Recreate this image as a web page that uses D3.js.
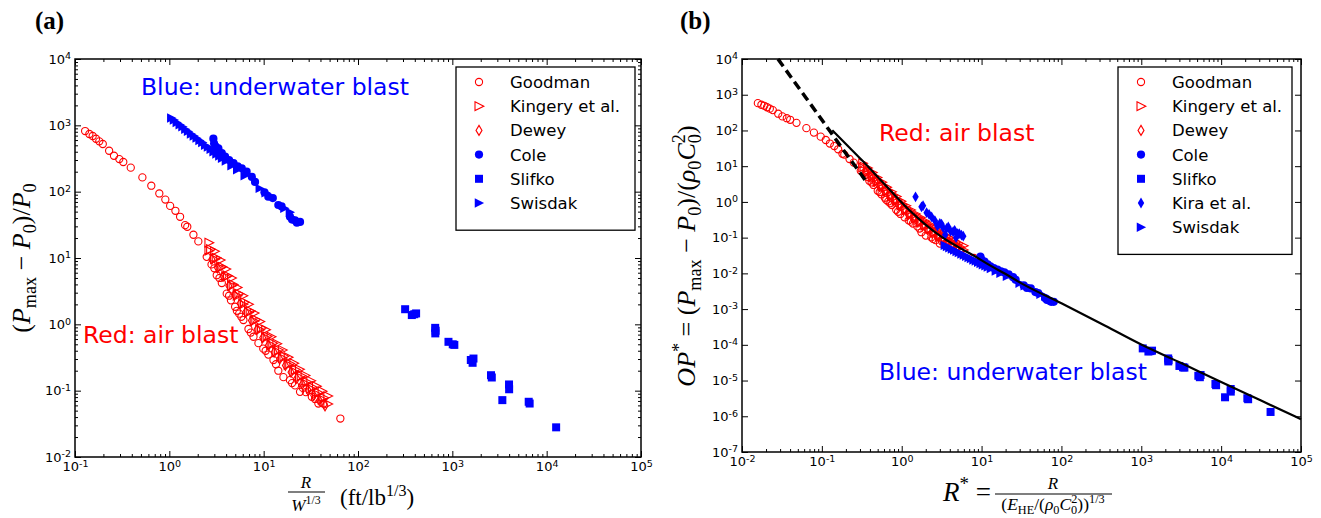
<!DOCTYPE html>
<html>
<head>
<meta charset="utf-8">
<script src="https://cdnjs.cloudflare.com/ajax/libs/d3/7.8.5/d3.min.js"></script>
<style>
body { margin: 0; background: #fff; }
text { font-family: "DejaVu Sans", sans-serif; }
.math { font-family: "Liberation Serif", "DejaVu Serif", serif; }
</style>
</head>
<body>
<script>
var W = 1321, H = 518;
var red = "#ff0000", blue = "#0000ff";

// ---------- panel (a): x = R/W^(1/3) (ft/lb^1/3), y = (Pmax-P0)/P0 ----------
var goodmanA = [[0.128,820],[0.142,740],[0.154,690],[0.167,628],[0.181,574],[0.197,523],[0.230,414],[0.259,348],
  [0.295,310],[0.325,280],[0.390,230],[0.518,164],[0.644,123],[0.783,94],[0.907,76],[1.02,61],[1.16,51.5],
  [1.30,41.8],[1.47,31.3],[1.55,29.6],[1.80,22.4],[2.03,17.8],[2.49,10.4],[2.8,8.0],[3.0,7.0],[3.18,5.5],
  [3.4,5.0],[3.6,4.2],[4.06,2.9],[4.3,2.7],[4.5,2.3],[4.98,1.84],[5.2,1.6],[5.5,1.45],[5.8,1.3],[6.1,1.16],
  [6.9,0.85],[7.3,0.75],[7.8,0.65],[8.8,0.52],[9.9,0.43],[10.5,0.40],[11.2,0.35],[12.7,0.29],[13.5,0.25],
  [14.3,0.20],[16.2,0.16],[19,0.144],[20,0.13],[21.5,0.12],[24.3,0.096],[26,0.11],[28,0.095],[32.4,0.081],
  [35,0.075],[38,0.064],[43,0.064],[65,0.038]];
var kingeryA = [[2.63,17.0],[3.02,12.6],[3.47,9.3],[3.98,6.8],[4.57,5.0],[5.25,3.6],[6.03,2.7],[6.92,2.0],
  [7.94,1.48],[9.12,1.10],[10.5,0.83],[12.0,0.65],[13.8,0.51],[15.8,0.41],[18.2,0.32],[20.9,0.26],[24.0,0.21],
  [27.5,0.17],[31.6,0.141],[36.3,0.117],[41.7,0.098],[47.9,0.083],
  [2.74,13.6],[3.14,10.1],[3.61,7.4],[4.14,5.4],[4.75,4.0],[5.46,2.9],[6.27,2.16],[7.20,1.6],[8.26,1.18],
  [9.48,0.88],[10.9,0.66],[12.5,0.52],[14.4,0.41],[16.4,0.33],[18.9,0.256],[21.7,0.208],[25.0,0.168],
  [28.6,0.136],[32.9,0.113],[37.8,0.094],[43.4,0.078],
  [2.63,12.9],[3.02,9.6],[3.47,7.1],[3.98,5.2],[4.57,3.8],[5.25,2.7],[6.03,2.0],[6.92,1.51],[7.94,1.12],
  [9.12,0.83],[10.5,0.63],[12.0,0.49],[13.8,0.39],[15.8,0.31],[18.2,0.245],[20.9,0.195],[24.0,0.16],
  [27.5,0.129],[31.6,0.107],[36.3,0.089],[41.7,0.074],[47.9,0.063]];
var deweyA = [[2.82,9.6],[3.24,7.1],[3.72,5.3],[4.27,3.8],[4.9,2.8],[5.62,2.06],[6.46,1.53],[7.41,1.14],
  [8.51,0.84],[9.77,0.63],[11.2,0.48],[12.9,0.38],[14.8,0.30],[17.0,0.24],[19.5,0.19],[22.4,0.153],
  [25.7,0.125],[29.5,0.102],[33.9,0.085],[38.9,0.071],[44.7,0.059]];
var coleA = [[2.93,630],[2.98,530],[3.1,480],[3.31,450],[3.6,380],[3.9,337],[4.3,300],[4.79,270],[5.3,240],
  [5.86,225],[6.6,200],[7.5,167],[8.1,140],[10.2,98],[11.2,84],[12.5,80],[14.3,63],[15.5,60],[19,42],
  [20,38],[21.5,37],[22.5,34],[24.3,35]];
var slifkoA = [[316,1.69],[372,1.38],[395,1.42],[413,1.46],[658,0.885],[665,0.80],[660,0.73],[910,0.545],
  [1010,0.50],[1050,0.49],[1570,0.29],[1675,0.305],[1640,0.263],[2570,0.171],[2620,0.158],[3390,0.072],
  [3990,0.124],[4000,0.105],[6450,0.068],[6600,0.064],[12600,0.028]];
var swisdakA = [[1.05,1290],[1.12,1200],[1.20,1100],[1.29,1020],[1.38,950],[1.48,870],[1.58,810],[1.70,740],
  [1.82,690],[1.95,640],[2.09,590],[2.24,550],[2.40,500],[2.57,470],[2.75,435],[2.95,400],[3.16,370],
  [3.39,345],[3.63,318],[3.98,290],[4.57,245],[5.25,214],[6.3,174],[9.1,112],[10.5,96],[16.6,56],[19,49]];

// ---------- panel (b): x = R*, y = OP* ----------
var goodmanB = [[0.0158,582],[0.0175,525],[0.0190,490],[0.0206,446],[0.0223,408],[0.0243,371],[0.0284,294],
  [0.0320,247],[0.0364,220],[0.0401,199],[0.0481,163],[0.0640,116],[0.0795,87],[0.0967,67],[0.112,54],
  [0.126,43],[0.143,36.6],[0.160,29.7],[0.181,22.2],[0.191,21.0],[0.222,15.9],[0.251,12.6],[0.307,7.4],
  [0.346,5.7],[0.37,5.0],[0.393,3.9],[0.42,3.5],[0.444,2.98],[0.501,2.06],[0.53,1.9],[0.556,1.63],
  [0.615,1.31],[0.64,1.14],[0.679,1.03],[0.72,0.92],[0.753,0.82],[0.852,0.60],[0.90,0.53],[0.963,0.46],
  [1.086,0.37],[1.222,0.305],[1.30,0.28],[1.383,0.249],[1.568,0.206],[1.67,0.18],[1.765,0.142],[2.0,0.114],
  [2.346,0.102],[2.47,0.092],[2.654,0.085],[3.0,0.068],[3.2,0.078],[3.457,0.067],[4.0,0.058],[4.3,0.053],
  [4.69,0.045],[5.31,0.045],[8.02,0.027]];
var kingeryB = [[0.325,12.05],[0.373,8.93],[0.429,6.62],[0.492,4.80],[0.565,3.56],[0.649,2.58],[0.745,1.91],
  [0.855,1.42],[0.982,1.05],[1.127,0.778],[1.294,0.590],[1.486,0.458],[1.706,0.364],[1.959,0.289],
  [2.249,0.230],[2.582,0.182],[2.965,0.148],[3.404,0.120],[3.908,0.100],[4.487,0.083],[5.152,0.069],[5.916,0.059],
  [0.338,9.66],[0.388,7.17],[0.446,5.25],[0.511,3.83],[0.586,2.84],[0.674,2.06],[0.774,1.53],[0.889,1.14],
  [1.020,0.84],[1.170,0.62],[1.346,0.47],[1.543,0.37],[1.778,0.29],[2.025,0.234],[2.333,0.182],[2.679,0.148],
  [3.086,0.119],[3.531,0.097],[4.062,0.080],[4.667,0.067],[5.358,0.055],
  [0.325,9.15],[0.373,6.78],[0.429,5.02],[0.492,3.64],[0.565,2.70],[0.649,1.96],[0.745,1.45],[0.855,1.08],
  [0.982,0.80],[1.127,0.59],[1.294,0.448],[1.486,0.348],[1.706,0.276],[1.959,0.219],[2.249,0.175],
  [2.582,0.138],[2.965,0.112],[3.404,0.091],[3.908,0.076],[4.487,0.063],[5.152,0.052],[5.916,0.045]];
var deweyB = [[0.348,6.82],[0.400,5.04],[0.459,3.76],[0.527,2.70],[0.605,1.99],[0.694,1.46],[0.798,1.09],
  [0.915,0.81],[1.051,0.60],[1.206,0.447],[1.383,0.341],[1.593,0.270],[1.827,0.213],[2.099,0.170],
  [2.407,0.135],[2.765,0.109],[3.173,0.089],[3.642,0.072],[4.185,0.060],[4.802,0.050],[5.519,0.042]];
var coleB = [[9.67,0.0296],[9.83,0.0249],[10.2,0.0226],[10.9,0.0212],[11.9,0.0179],[12.9,0.0158],[14.2,0.0141],
  [15.8,0.0127],[17.5,0.0113],[19.3,0.0106],[21.8,0.0094],[24.8,0.0078],[26.7,0.0066],[33.7,0.0046],
  [37.0,0.0039],[41.3,0.0038],[47.2,0.0030],[51.2,0.0028],[62.7,0.0020],[66,0.0018],[71,0.0017],
  [74.3,0.0016],[80.2,0.0016]];
var slifkoB = [[1043,7.94e-5],[1228,6.49e-5],[1304,6.67e-5],[1363,6.86e-5],[2171,4.16e-5],[2195,3.76e-5],
  [2178,3.43e-5],[3003,2.56e-5],[3333,2.35e-5],[3465,2.30e-5],[5181,1.36e-5],[5528,1.43e-5],[5412,1.24e-5],
  [8481,8.0e-6],[8646,7.4e-6],[11190,3.4e-6],[13170,5.8e-6],[13200,4.9e-6],[21290,3.2e-6],[21780,3.0e-6],
  [41580,1.32e-6]];
var kiraB = [[1.49,1.39],[1.77,0.73],[1.85,0.78],[2.05,0.50],[2.2,0.45],[2.37,0.38],[2.6,0.30],[2.8,0.21],
  [3.0,0.25],[3.15,0.24],[3.3,0.19],[3.5,0.12],[3.65,0.18],[3.83,0.20],[4.1,0.15],[4.4,0.146],[4.6,0.16],
  [4.8,0.10],[5.0,0.13],[5.25,0.13],[5.6,0.117],[5.9,0.11]];
var swisdakB = [[3.47,0.0606],[3.70,0.0564],[3.96,0.0517],[4.26,0.0479],[4.55,0.0447],[4.88,0.0409],
  [5.21,0.0381],[5.61,0.0348],[6.01,0.0324],[6.44,0.0301],[6.90,0.0277],[7.39,0.0259],[7.92,0.0235],
  [8.48,0.0221],[9.08,0.0204],[9.74,0.0188],[10.4,0.0174],[11.2,0.0162],[12.0,0.0149],[13.1,0.0136],
  [15.1,0.0115],[17.3,0.0101],[20.8,0.0082],[30.0,0.0053],[34.7,0.0045],[54.8,0.0026],[62.7,0.0023]];
var fitSolidB = [[0.135,102],[0.200,41.7],[0.316,14.8],[0.501,5.0],[0.794,1.66],[1.26,0.575],[2.0,0.229],
  [3.16,0.105],[5.01,0.056],[7.94,0.0316],[12.6,0.0170],[20.0,0.00955],[31.6,0.00525],[100,0.00145],
  [316,3.9e-4],[1000,1.02e-4],[3162,3.09e-5],[1e4,9.1e-6],[31623,2.75e-6],[1e5,8.3e-7]];
var fitDashB = [[0.0282,1e4],[0.0532,1400],[0.0861,316],[0.126,96],[0.185,29],[0.272,8.9],[0.363,3.6]];

var xTicksA = [1e-1,1,1e1,1e2,1e3,1e4,1e5];
var yTicksA = [1e-2,1e-1,1,1e1,1e2,1e3,1e4];
var xTicksB = [1e-2,1e-1,1,1e1,1e2,1e3,1e4,1e5];
var yTicksB = [1e-7,1e-6,1e-5,1e-4,1e-3,1e-2,1e-1,1,1e1,1e2,1e3,1e4];

var svg = d3.select("body").append("svg").attr("width", W).attr("height", H);

function minorsOf(ticks) {
  var out = [];
  for (var i = 0; i < ticks.length - 1; i++)
    for (var m = 2; m < 10; m++) out.push(m * ticks[i]);
  return out;
}

function expLabels(sel) {
  sel.each(function (d) {
    var t = d3.select(this);
    t.text(null);
    t.append("tspan").text("10");
    t.append("tspan").attr("dy", "-0.45em").attr("font-size", "9.5px").text(Math.round(Math.log10(d)));
  });
}

function axes(g, x, y, xt, yt, yMinor) {
  var x0 = x.range()[0], x1 = x.range()[1], y0 = y.range()[0], y1 = y.range()[1];
  var xm = minorsOf(xt), ym = minorsOf(yt);
  function clean(s) { s.select(".domain").remove(); s.selectAll("line").attr("stroke", "#000"); }
  // bottom
  g.append("g").attr("transform", "translate(0," + y0 + ")")
    .call(d3.axisBottom(x).tickValues(xm).tickSize(-3).tickFormat("")).call(clean);
  g.append("g").attr("transform", "translate(0," + y0 + ")")
    .call(d3.axisBottom(x).tickValues(xt).tickSize(-6).tickPadding(5)).call(clean)
    .call(function (s) { s.selectAll("text").attr("font-size", "13px").call(expLabels); });
  // top
  g.append("g").attr("transform", "translate(0," + y1 + ")")
    .call(d3.axisTop(x).tickValues(xm).tickSize(-3).tickFormat("")).call(clean);
  g.append("g").attr("transform", "translate(0," + y1 + ")")
    .call(d3.axisTop(x).tickValues(xt).tickSize(-6).tickFormat("")).call(clean);
  // left / right
  if (yMinor) {
    g.append("g").attr("transform", "translate(" + x0 + ",0)")
      .call(d3.axisLeft(y).tickValues(ym).tickSize(-3).tickFormat("")).call(clean);
    g.append("g").attr("transform", "translate(" + x1 + ",0)")
      .call(d3.axisRight(y).tickValues(ym).tickSize(-3).tickFormat("")).call(clean);
  }
  g.append("g").attr("transform", "translate(" + x0 + ",0)")
    .call(d3.axisLeft(y).tickValues(yt).tickSize(-6).tickPadding(4)).call(clean)
    .call(function (s) { s.selectAll("text").attr("font-size", "13px").call(expLabels); });
  g.append("g").attr("transform", "translate(" + x1 + ",0)")
    .call(d3.axisRight(y).tickValues(yt).tickSize(-6).tickFormat("")).call(clean);
  g.selectAll(".tick text").attr("fill", "#000");
  g.append("rect").attr("x", x0).attr("y", y1).attr("width", x1 - x0).attr("height", y0 - y1)
    .attr("fill", "none").attr("stroke", "#000").attr("stroke-width", 1.5);
}

// marker shapes
function triPath(s) { return "M" + (-0.5 * s) + "," + (-0.55 * s) + "L" + (0.6 * s) + ",0L" + (-0.5 * s) + "," + (0.55 * s) + "Z"; }
function diaPath(w, h) { return "M0," + (-h) + "L" + w + ",0L0," + h + "L" + (-w) + ",0Z"; }

var styles = {
  goodman: function (g) { g.append("circle").attr("r", 3.6).attr("fill", "none").attr("stroke", red).attr("stroke-width", 1.1); },
  kingery: function (g) { g.append("path").attr("d", triPath(8)).attr("fill", "none").attr("stroke", red).attr("stroke-width", 1.1); },
  dewey: function (g) { g.append("path").attr("d", diaPath(3, 5)).attr("fill", "none").attr("stroke", red).attr("stroke-width", 1.1); },
  cole: function (g) { g.append("circle").attr("r", 4.1).attr("fill", blue); },
  slifko: function (g) { g.append("rect").attr("x", -4).attr("y", -4).attr("width", 8).attr("height", 8).attr("fill", blue); },
  kira: function (g) { g.append("path").attr("d", diaPath(3.2, 5.4)).attr("fill", blue); },
  swisdak: function (g) { g.append("path").attr("d", triPath(8.5)).attr("fill", blue); }
};

function scatter(g, x, y, data, kind) {
  g.append("g").selectAll("g").data(data).enter().append("g")
    .attr("transform", function (d) { return "translate(" + x(d[0]) + "," + y(d[1]) + ")"; })
    .each(function () { styles[kind](d3.select(this)); });
}

function legend(g, bx, by, bw, entries) {
  var bh = 18 + entries.length * 24.2;
  g.append("rect").attr("x", bx).attr("y", by).attr("width", bw).attr("height", bh)
    .attr("fill", "#fff").attr("stroke", "#000").attr("stroke-width", 1.3);
  entries.forEach(function (e, i) {
    var cy = by + 15 + i * 24.2;
    var m = g.append("g").attr("transform", "translate(" + (bx + 23) + "," + cy + ")");
    styles[e[0]](m);
    g.append("text").attr("x", bx + 54).attr("y", cy + 6).attr("font-size", "16.5px").text(e[1]);
  });
}

function mathText(sel, parts, size) {
  var shift = 0;
  parts.forEach(function (p) {
    var txt = p[0], kind = p[1], target = 0, fs = size;
    if (kind.indexOf("sub") >= 0) { target = size * 0.22; fs = size * 0.7; }
    if (kind.indexOf("sup") >= 0) { target = -size * 0.4; fs = size * 0.7; }
    var t = sel.append("tspan").text(txt).attr("font-size", fs + "px").attr("dy", target - shift);
    if (p[2]) t.attr("dx", p[2]);
    if (kind.charAt(0) === "i") t.attr("font-style", "italic");
    shift = target;
  });
}

// ================= panel (a) =================
var gA = svg.append("g");
var xA = d3.scaleLog().domain([1e-1, 1e5]).range([75, 641]);
var yA = d3.scaleLog().domain([1e-2, 1e4]).range([457, 59]);

scatter(gA, xA, yA, goodmanA, "goodman");
scatter(gA, xA, yA, kingeryA, "kingery");
scatter(gA, xA, yA, deweyA, "dewey");
scatter(gA, xA, yA, swisdakA, "swisdak");
scatter(gA, xA, yA, coleA, "cole");
scatter(gA, xA, yA, slifkoA, "slifko");
axes(gA, xA, yA, xTicksA, yTicksA, true);
legend(gA, 456, 67, 179, [["goodman","Goodman"],["kingery","Kingery et al."],["dewey","Dewey"],
  ["cole","Cole"],["slifko","Slifko"],["swisdak","Swisdak"]]);

gA.append("text").attr("x", 141).attr("y", 95).attr("fill", blue).attr("font-size", "23.5px").text("Blue: underwater blast");
gA.append("text").attr("x", 83).attr("y", 343).attr("fill", red).attr("font-size", "23.5px").text("Red: air blast");
gA.append("text").attr("class", "math").attr("x", 35).attr("y", 29).attr("font-size", "25px").attr("font-weight", "bold").text("(a)");

var ylA = gA.append("text").attr("class", "math").attr("text-anchor", "middle")
  .attr("transform", "translate(30,258) rotate(-90)");
mathText(ylA, [["(", "r"], ["P", "i"], ["max", "sub"], [" − ", "r"], ["P", "i"], ["0", "sub"],
  [")/", "r"], ["P", "i"], ["0", "sub"]], 26);

gA.append("text").attr("class", "math").attr("x", 306).attr("y", 488).attr("text-anchor", "middle")
  .attr("font-size", "17px").attr("font-style", "italic").text("R");
gA.append("line").attr("x1", 288).attr("x2", 325).attr("y1", 492).attr("y2", 492).attr("stroke", "#000").attr("stroke-width", 1.2);
var wl = gA.append("text").attr("class", "math").attr("x", 306).attr("y", 511).attr("text-anchor", "middle");
mathText(wl, [["W", "i"], ["1/3", "sup"]], 17);
var ul = gA.append("text").attr("class", "math").attr("x", 340).attr("y", 505);
mathText(ul, [["(ft/lb", "r"], ["1/3", "sup"], [")", "r"]], 23);

// ================= panel (b) =================
var gB = svg.append("g");
var xB = d3.scaleLog().domain([1e-2, 1e5]).range([742, 1301]);
var yB = d3.scaleLog().domain([1e-7, 1e4]).range([452, 59]);

scatter(gB, xB, yB, goodmanB, "goodman");
scatter(gB, xB, yB, kingeryB, "kingery");
scatter(gB, xB, yB, deweyB, "dewey");
scatter(gB, xB, yB, kiraB, "kira");
scatter(gB, xB, yB, swisdakB, "swisdak");
scatter(gB, xB, yB, coleB, "cole");
scatter(gB, xB, yB, slifkoB, "slifko");

var line = d3.line().x(function (d) { return xB(d[0]); }).y(function (d) { return yB(d[1]); });
gB.append("path").datum(fitSolidB).attr("d", line.curve(d3.curveMonotoneX)).attr("fill", "none")
  .attr("stroke", "#000").attr("stroke-width", 2.2);
gB.append("path").datum(fitDashB).attr("d", line.curve(d3.curveMonotoneX)).attr("fill", "none")
  .attr("stroke", "#000").attr("stroke-width", 3.5).attr("stroke-dasharray", "9,5");

axes(gB, xB, yB, xTicksB, yTicksB, false);
legend(gB, 1118, 67, 174, [["goodman","Goodman"],["kingery","Kingery et al."],["dewey","Dewey"],
  ["cole","Cole"],["slifko","Slifko"],["kira","Kira et al."],["swisdak","Swisdak"]]);

gB.append("text").attr("x", 879).attr("y", 141).attr("fill", red).attr("font-size", "23.5px").text("Red: air blast");
gB.append("text").attr("x", 879).attr("y", 380).attr("fill", blue).attr("font-size", "23.5px").text("Blue: underwater blast");
gB.append("text").attr("class", "math").attr("x", 680).attr("y", 29).attr("font-size", "25px").attr("font-weight", "bold").text("(b)");

var ylB = gB.append("text").attr("class", "math").attr("text-anchor", "middle")
  .attr("transform", "translate(695,256) rotate(-90)");
mathText(ylB, [["OP", "i"], ["*", "sup"], [" = (", "r"], ["P", "i"], ["max", "sub"], [" − ", "r"], ["P", "i"], ["0", "sub"],
  [")/(", "r"], ["ρ", "i"], ["0", "sub"], ["C", "i"], ["0", "sub"], ["2", "sup", -9], [")", "r"]], 26);

var rl = gB.append("text").attr("class", "math").attr("x", 991).attr("y", 501).attr("text-anchor", "end");
mathText(rl, [["R", "i"], ["*", "sup"], [" =", "r"]], 27);
gB.append("text").attr("class", "math").attr("x", 1053).attr("y", 489).attr("text-anchor", "middle")
  .attr("font-size", "17px").attr("font-style", "italic").text("R");
gB.append("line").attr("x1", 995).attr("x2", 1112).attr("y1", 494).attr("y2", 494).attr("stroke", "#000").attr("stroke-width", 1.2);
var dl = gB.append("text").attr("class", "math").attr("x", 1053).attr("y", 510).attr("text-anchor", "middle");
mathText(dl, [["(", "r"], ["E", "i"], ["HE", "sub"], ["/(", "r"], ["ρ", "i"], ["0", "sub"], ["C", "i"], ["0", "sub"],
  ["2", "sup", -6], ["))", "r"], ["1/3", "sup"]], 17.5);
</script>
</body>
</html>
